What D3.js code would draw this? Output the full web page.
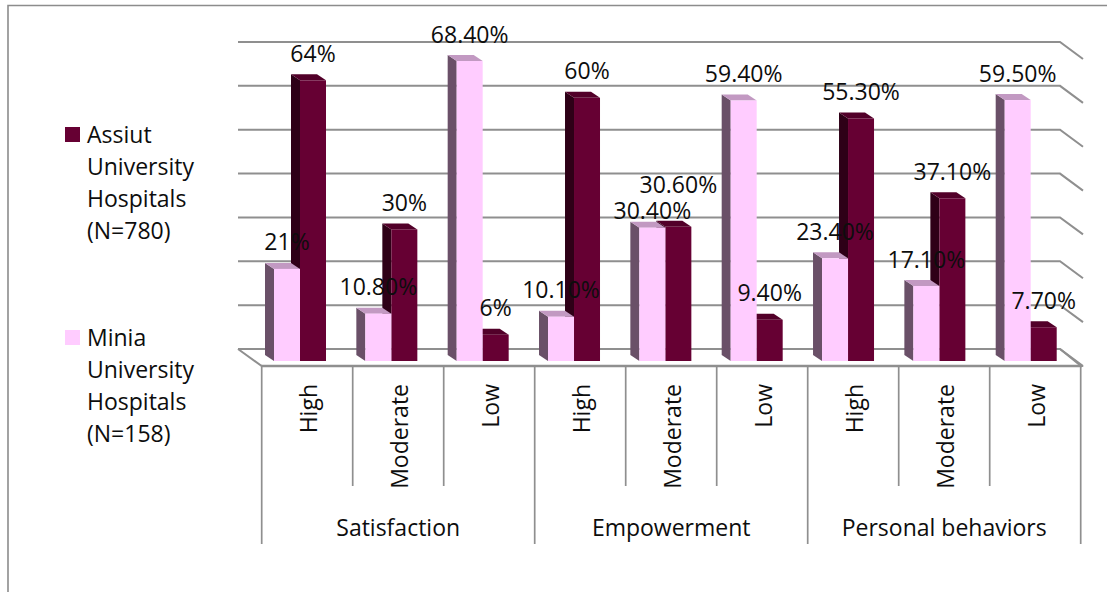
<!DOCTYPE html>
<html>
<head>
<meta charset="utf-8">
<script src="https://cdn.jsdelivr.net/npm/d3@7/dist/d3.min.js"></script>
<style>
html,body{margin:0;padding:0;background:#fff;overflow:hidden}
svg{display:block}
text{font-family:"Open Sans",Lato,sans-serif;fill:#0d0d0d}
</style>
</head>
<body>
<svg id="c" width="1107" height="592"></svg>
<script>
const categories = ["High","Moderate","Low","High","Moderate","Low","High","Moderate","Low"];
const groups = ["Satisfaction","Empowerment","Personal behaviors"];
const assiut = [64,30,6,60,30.6,9.4,55.3,37.1,7.7];
const minia = [21,10.8,68.4,10.1,30.4,59.4,23.4,17.1,59.5];
const assiutLabels = ["64%","30%","6%","60%","30.60%","9.40%","55.30%","37.10%","7.70%"];
const miniaLabels = ["21%","10.80%","68.40%","10.10%","30.40%","59.40%","23.40%","17.10%","59.50%"];
const gridTicks = [0,10,20,30,40,50,60,70];
const legendAssiut = ["Assiut","University","Hospitals","(N=780)"];
const legendMinia = ["Minia","University","Hospitals","(N=158)"];

const svg = d3.select("#c");
const GRID = "#8f8f8f";
const DX = 9, DY = 6, BW = 26;
const FS = 23;
const PINK = {front:"#FFCCFF", side:"#6A5068", top:"#C299C2"};
const DARK = {front:"#660033", side:"#2E0017", top:"#520029"};

// front plane and back wall share the same value scale, shifted by the floor depth
const yFront = d3.scaleLinear().domain([0,70]).range([361,54]);
const yBack = d3.scaleLinear().domain([0,70]).range([349,42]);
const xTick = d3.scaleLinear().domain([0,9]).range([261.7,1080.7]);
const xBar = d3.scaleLinear().domain([0,8]).range([274,1004.7]);

// outer frame
svg.append("path").attr("d","M8,592V5.5H1107").attr("fill","none").attr("stroke","#8c8c8c").attr("stroke-width",1.6);

// gridlines
gridTicks.forEach(t=>{
  const y = yBack(t);
  svg.append("path").attr("d",`M238,${y}H1060L1083,${y+17}`)
    .attr("fill","none").attr("stroke",GRID).attr("stroke-width",2);
});
// floor
svg.append("path").attr("d",`M238,${yBack(0)}L261.7,366H1081L1060,${yBack(0)}`)
  .attr("fill","none").attr("stroke",GRID).attr("stroke-width",2);
svg.append("line").attr("x1",261).attr("x2",1082).attr("y1",366).attr("y2",366)
  .attr("stroke",GRID).attr("stroke-width",2.4);

// bar with side and top faces
function bar(x, v, c){
  const y = yFront(v), b = yFront(0), g = svg.append("g");
  g.append("path").attr("d",`M${x},${y}L${x-DX},${y-DY}V${b-DY}L${x},${b}Z`).attr("fill",c.side);
  g.append("path").attr("d",`M${x},${y}L${x-DX},${y-DY}H${x+BW-DX}L${x+BW},${y}Z`).attr("fill",c.top);
  g.append("rect").attr("x",x).attr("y",y).attr("width",BW).attr("height",b-y).attr("fill",c.front);
}
categories.forEach((_,i)=>{
  bar(xBar(i)+BW, assiut[i], DARK);
  bar(xBar(i), minia[i], PINK);
});

// axis ticks
d3.range(10).forEach(i=>{
  svg.append("line").attr("x1",xTick(i)).attr("x2",xTick(i)).attr("y1",366)
    .attr("y2",i%3===0?544:486).attr("stroke",GRID).attr("stroke-width",1.7);
});
// category labels
categories.forEach((c,i)=>{
  const x = xTick(i)+46.5;
  svg.append("text").attr("transform",`translate(${x+9},384) rotate(-90)`)
    .attr("text-anchor","end").attr("font-size",FS).text(c);
});
// group labels
groups.forEach((g,i)=>{
  svg.append("text").attr("x",xTick(i*3+1.5)).attr("y",536)
    .attr("text-anchor","middle").attr("font-size",FS).text(g);
});
// data labels; the two Empowerment/Moderate labels are moved apart in the reference
const labelNudge = {"30.60%":-15.5, "30.40%":9.5};
categories.forEach((_,i)=>{
  svg.append("text").attr("x",xBar(i)+BW/2).attr("y",yFront(minia[i])-18.5+(labelNudge[miniaLabels[i]]||0))
    .attr("text-anchor","middle").attr("font-size",FS).text(miniaLabels[i]);
  svg.append("text").attr("x",xBar(i)+BW*1.5).attr("y",yFront(assiut[i])-18.5+(labelNudge[assiutLabels[i]]||0))
    .attr("text-anchor","middle").attr("font-size",FS).text(assiutLabels[i]);
});
// legend
function legend(lines, color, top){
  svg.append("rect").attr("x",65).attr("y",top).attr("width",15).attr("height",15).attr("fill",color);
  lines.forEach((l,i)=>{
    svg.append("text").attr("x",87).attr("y",top+16+i*32).attr("font-size",FS).text(l);
  });
}
legend(legendAssiut, DARK.front, 127);
legend(legendMinia, PINK.front, 330);
</script>
</body>
</html>
